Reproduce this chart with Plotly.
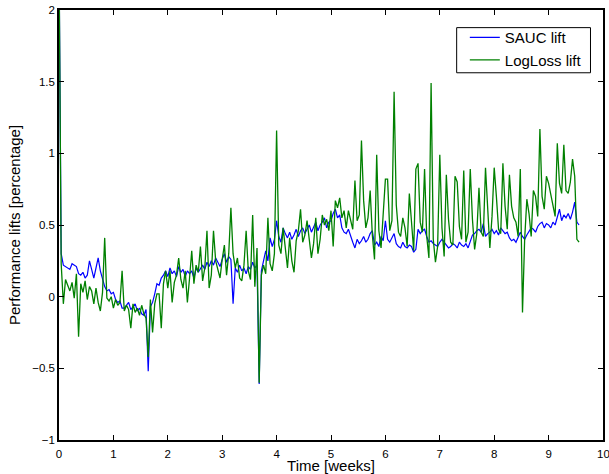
import plotly.graph_objects as go

# Time in weeks (sampling step 0.04 week)
weeks = [round(i * 0.04, 2) for i in range(240)]

sauc_lift = [
    2.4, 0.30, 0.22, 0.21, 0.20, 0.19, 0.23, 0.22, 0.21, 0.16,
    0.15, 0.17, 0.13, 0.15, 0.25, 0.19, 0.13, 0.20, 0.27, 0.18,
    0.12, 0.07, 0.04, 0.05, 0.02, 0.03, -0.02, -0.04, -0.03, -0.08,
    -0.08, -0.06, -0.04, -0.09, -0.07, -0.05, -0.10, -0.08, -0.12, -0.13,
    -0.09, -0.52, -0.07, -0.04, 0.02, 0.09, 0.08, 0.13, 0.15, 0.18,
    0.14, 0.20, 0.16, 0.18, 0.14, 0.21, 0.17, 0.19, 0.14, 0.18,
    0.16, 0.18, 0.13, 0.20, 0.17, 0.20, 0.22, 0.19, 0.24, 0.21,
    0.25, 0.22, 0.27, 0.24, 0.21, 0.26, 0.30, 0.24, 0.28, 0.26,
    -0.05, 0.20, 0.17, 0.22, 0.18, 0.20, 0.16, 0.21, 0.19, 0.24,
    0.20, 0.22, -0.61, 0.18, 0.25, 0.32, 0.25, 0.41, 0.35, 0.40,
    0.53, 0.42, 0.38, 0.48, 0.44, 0.41, 0.45, 0.40, 0.43, 0.47,
    0.42, 0.46, 0.48, 0.44, 0.47, 0.50, 0.45, 0.49, 0.52, 0.46,
    0.50, 0.52, 0.55, 0.48, 0.52, 0.53, 0.58, 0.61, 0.55, 0.57,
    0.48, 0.45, 0.44, 0.47, 0.42, 0.38, 0.34, 0.40, 0.37, 0.39,
    0.42, 0.38, 0.40, 0.44, 0.46, 0.36, 0.38, 0.35, 0.42, 0.39,
    0.53, 0.40, 0.38, 0.41, 0.44, 0.37, 0.35, 0.34, 0.38, 0.35,
    0.34, 0.36, 0.35, 0.31, 0.33, 0.47, 0.44, 0.46, 0.47, 0.42,
    0.38, 0.39, 0.37, 0.36, 0.35, 0.38, 0.40, 0.38, 0.36, 0.34,
    0.35, 0.37, 0.36, 0.34, 0.38, 0.36, 0.35, 0.37, 0.34, 0.39,
    0.43, 0.44, 0.46, 0.47, 0.45, 0.51, 0.42, 0.44, 0.45, 0.47,
    0.44, 0.46, 0.43, 0.48, 0.46, 0.44, 0.45, 0.41, 0.39, 0.40,
    0.38, 0.41, 0.45, 0.42, 0.40, 0.43, 0.46, 0.48, 0.47, 0.45,
    0.49, 0.51, 0.52, 0.48, 0.51, 0.50, 0.48, 0.52, 0.50, 0.55,
    0.61, 0.53, 0.57, 0.55, 0.58, 0.54, 0.59, 0.66, 0.52, 0.50,
]

logloss_lift = [
    2.4, 0.23, -0.05, 0.12, 0.08, 0.04, 0.10, -0.01, 0.16, -0.28,
    0.09, 0.03, 0.11, -0.02, 0.07, 0.04, -0.05, 0.06, -0.04, -0.10,
    0.03, 0.41, -0.01, -0.03, 0.00, -0.08, -0.02, -0.06, -0.04, 0.18,
    -0.10, -0.06, -0.09, -0.22, -0.05, -0.11, -0.08, -0.13, -0.06, -0.12,
    -0.15, -0.42, -0.02, -0.25, -0.05, 0.02, 0.02, -0.22, 0.09, 0.18,
    0.06, 0.18, -0.04, 0.10, 0.15, 0.27, 0.12, 0.06, 0.18, -0.04,
    0.13, 0.32, 0.09, 0.22, 0.17, 0.35, 0.11, 0.20, 0.46, 0.06,
    0.15, 0.46, 0.25, 0.18, 0.13, 0.26, 0.36, 0.15, 0.30, 0.62,
    0.30, 0.20, 0.27, 0.13, 0.11, 0.22, 0.46, 0.18, 0.12, 0.57,
    0.07, 0.34, -0.60, 0.15, 0.22, 0.16, 0.55, 0.23, 0.18, 0.30,
    1.16, 0.36, 0.30, 0.48, 0.33, 0.20, 0.41, 0.25, 0.17, 0.39,
    0.46, 0.61, 0.38, 0.43, 0.53, 0.38, 0.27, 0.37, 0.55, 0.30,
    0.40, 0.57, 0.50, 0.54, 0.46, 0.60, 0.35, 0.67, 0.62, 0.69,
    0.55, 0.60, 0.48, 0.60, 0.53, 0.47, 0.81, 0.53, 0.57, 1.09,
    0.67, 0.48, 0.55, 0.74, 0.43, 0.26, 0.99, 0.46, 0.34, 0.55,
    0.82, 0.82, 0.46, 0.53, 1.43, 0.64, 0.45, 0.42, 0.55, 0.48,
    0.35, 0.72, 0.53, 0.32, 0.89, 0.93, 0.52, 0.45, 0.89, 0.42,
    0.27, 1.49, 0.40, 0.24, 0.35, 0.99, 0.48, 0.28, 0.85, 0.54,
    0.38, 0.36, 0.84, 0.80, 0.49, 0.40, 0.88, 0.38, 0.45, 0.89,
    0.54, 0.33, 0.44, 0.76, 0.45, 0.42, 0.90, 0.65, 0.34, 0.56,
    0.90, 0.70, 0.47, 0.44, 0.93, 0.63, 0.47, 0.85, 0.63, 0.55,
    0.52, 0.42, 0.89, -0.11, 0.40, 0.68, 0.58, 0.42, 0.74, 0.70,
    0.56, 1.17, 0.70, 0.61, 0.84, 0.79, 0.72, 0.64, 0.56, 1.07,
    0.79, 0.72, 1.06, 0.74, 0.72, 0.80, 0.96, 0.84, 0.40, 0.38,
]

x_ticks = [0, 1, 2, 3, 4, 5, 6, 7, 8, 9, 10]
y_ticks = [-1, -0.5, 0, 0.5, 1, 1.5, 2]

FONT = "Liberation Sans, Arial, Helvetica, sans-serif"

fig = go.Figure()
fig.add_trace(go.Scatter(x=weeks, y=sauc_lift, mode="lines", name="SAUC lift",
                         line=dict(color="#0000FF", width=1.2)))
fig.add_trace(go.Scatter(x=weeks, y=logloss_lift, mode="lines", name="LogLoss lift",
                         line=dict(color="#008000", width=1.3)))

axis_common = dict(
    showline=True, linecolor="black", linewidth=1.5, mirror="ticks",
    ticks="inside", ticklen=5, tickwidth=1, tickcolor="black",
    showgrid=False, zeroline=False, automargin=False,
    tickfont=dict(family=FONT, size=11.5, color="black"),
)

# legend frame (white box over the lines, black border)
fig.add_shape(type="rect", xref="paper", yref="paper",
              x0=0.731, x1=0.977, y0=0.854, y1=0.959,
              line=dict(color="black", width=1), fillcolor="white", layer="above")

# last x tick label sits at the page edge; plotly would drop it, so draw it as text
fig.add_annotation(x=x_ticks[-1], y=0, xref="x", yref="paper", text=str(x_ticks[-1]),
                   showarrow=False, yanchor="top", xanchor="center", yshift=-6,
                   font=dict(family=FONT, size=11.5, color="black"))

fig.update_layout(
    width=609, height=474,
    margin=dict(l=59, r=6, t=10, b=34),
    paper_bgcolor="white", plot_bgcolor="white",
    font=dict(family=FONT, size=15, color="black"),
    xaxis=dict(range=[0, 10], tickvals=x_ticks,
               ticktext=[str(v) for v in x_ticks[:-1]] + [""],
               ticklabelstandoff=2,
               title=dict(text="Time [weeks]", font=dict(size=15), standoff=6),
               **axis_common),
    yaxis=dict(range=[-1, 2], tickvals=y_ticks,
               ticktext=["\u22121", "\u22120.5", "0", "0.5", "1", "1.5", "2"],
               title=dict(text="Performance lifts [percentage]", font=dict(size=15), standoff=8),
               **axis_common),
    legend=dict(x=0.746, y=0.974, xanchor="left", yanchor="top",
                borderwidth=0, bgcolor="rgba(0,0,0,0)",
                font=dict(family=FONT, size=15), tracegroupgap=0),
    showlegend=True,
)

fig.write_html("out.html", config={"displayModeBar": False},
               post_script="document.body.style.margin='0';document.body.style.overflow='hidden';")
